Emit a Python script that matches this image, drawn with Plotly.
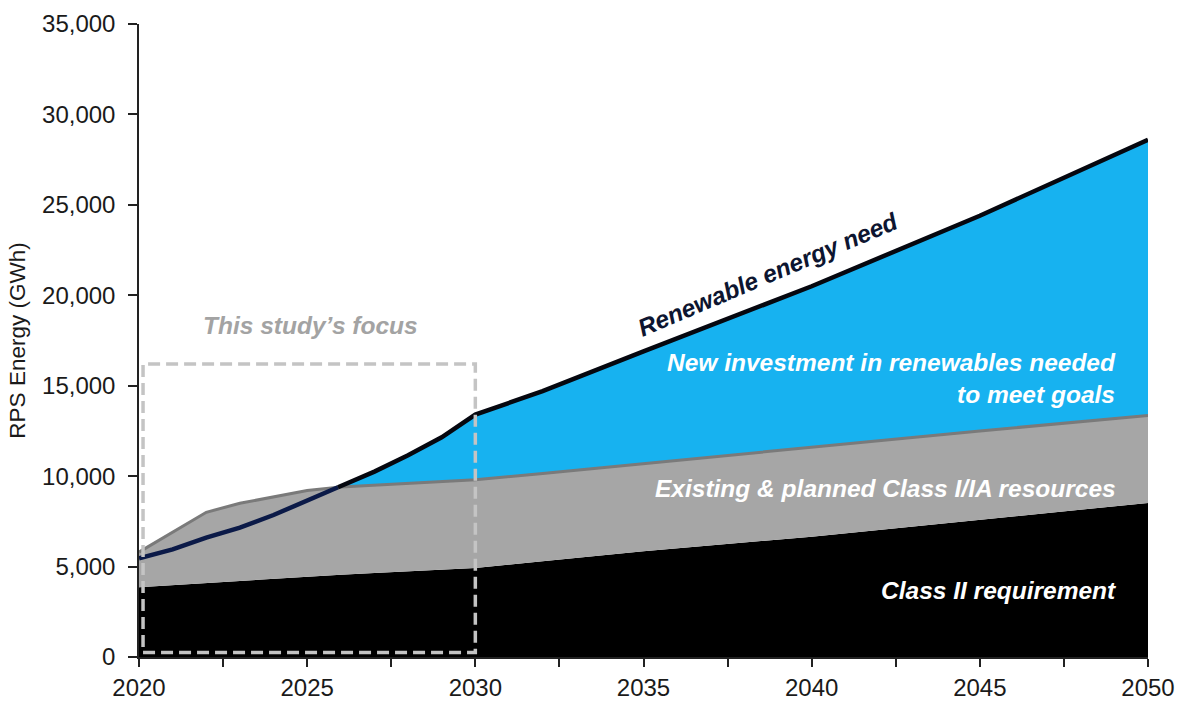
import numpy as np
import plotly.graph_objects as go

years = [2020, 2021, 2022, 2023, 2024, 2025, 2026, 2027, 2028, 2029, 2030, 2032, 2035, 2040, 2045, 2050]
class2 = [3860, 3980, 4100, 4220, 4330, 4450, 4550, 4650, 4750, 4830, 4920, 5300, 5850, 6650, 7600, 8520]
existing_top = [5800, 6900, 8000, 8500, 8850, 9200, 9400, 9500, 9600, 9700, 9800, 10150, 10700, 11600, 12500, 13350]
need = [5460, 5950, 6600, 7150, 7850, 8650, 9450, 10250, 11150, 12150, 13400, 14700, 16900, 20500, 24400, 28600]

x_ticks = [2020, 2022.5, 2025, 2027.5, 2030, 2032.5, 2035, 2037.5, 2040, 2042.5, 2045, 2047.5, 2050]
x_ticktext = ["2020", "", "2025", "", "2030", "", "2035", "", "2040", "", "2045", "", "2050"]
y_ticks = [0, 5000, 10000, 15000, 20000, 25000, 30000, 35000]

yr = np.array(years, float)
nd = np.array(need, float)
ex = np.array(existing_top, float)

# find crossing points where need rises above existing resources
xs = list(yr)
diff = nd - ex
cross = []
for i in range(len(yr) - 1):
    if diff[i] * diff[i + 1] < 0:
        t = diff[i] / (diff[i] - diff[i + 1])
        cross.append(yr[i] + t * (yr[i + 1] - yr[i]))
xs = np.array(sorted(set(xs + cross)))
nd_f = np.interp(xs, yr, nd)
ex_f = np.interp(xs, yr, ex)
blue_top = np.maximum(nd_f, ex_f)
xc = cross[0] if cross else yr[0]

FONT = "Arial, Liberation Sans, sans-serif"
fig = go.Figure()
fig.add_trace(go.Scatter(x=years, y=class2, mode="lines", line=dict(width=0, color="#000000"),
                         fill="tozeroy", fillcolor="#000000", showlegend=False, hoverinfo="skip"))
fig.add_trace(go.Scatter(x=years, y=existing_top, mode="lines", line=dict(width=0, color="#a6a6a6"),
                         fill="tonexty", fillcolor="#a6a6a6", showlegend=False, hoverinfo="skip"))
fig.add_trace(go.Scatter(x=xs, y=blue_top, mode="lines", line=dict(width=0, color="#17b2f0"),
                         fill="tonexty", fillcolor="#17b2f0", showlegend=False, hoverinfo="skip"))
fig.add_trace(go.Scatter(x=years, y=existing_top, mode="lines", line=dict(width=3, color="#7a7a7a"),
                         showlegend=False, hoverinfo="skip"))
m1 = xs <= xc + 1e-9
m2 = xs >= xc - 1e-9
fig.add_trace(go.Scatter(x=xs[m1], y=nd_f[m1], mode="lines", line=dict(width=4.5, color="#0b1a48"),
                         showlegend=False, hoverinfo="skip"))
fig.add_trace(go.Scatter(x=xs[m2], y=nd_f[m2], mode="lines", line=dict(width=4.5, color="#05070f"),
                         showlegend=False, hoverinfo="skip"))

fig.add_shape(type="rect", xref="x", yref="y", x0=2020.12, x1=2030, y0=250, y1=16200,
              line=dict(color="#c4c4c4", width=3.5, dash="12px,6px"), layer="above")

def ann(text, x, y, color, xanchor="right", angle=0, size=24.5):
    fig.add_annotation(x=x, y=y, xref="x", yref="y", text=text, showarrow=False,
                       xanchor=xanchor, yanchor="middle", align="right", textangle=angle,
                       font=dict(family=FONT, size=size, color=color))

ann("<b><i>Renewable energy need</i></b>", 2038.7, 21150, "#0d1530", xanchor="center", angle=-23)
ann("<b><i>New investment in renewables needed<br>to meet goals</i></b>", 2049.1, 15420, "#ffffff")
ann("<b><i>Existing &amp; planned Class I/IA resources</i></b>", 2049.1, 9340, "#ffffff")
ann("<b><i>Class II requirement</i></b>", 2049.1, 3650, "#ffffff")
ann("<b><i>This study’s focus</i></b>", 2025.1, 18350, "#a3a3a3", xanchor="center")

fig.update_layout(
    width=1177, height=702,
    margin=dict(l=139, r=29, t=24, b=45),
    paper_bgcolor="white", plot_bgcolor="white",
    font=dict(family=FONT, size=23, color="#1a1a1a"),
)
fig.update_xaxes(range=[2020, 2050], tickvals=x_ticks, ticktext=x_ticktext, ticks="outside",
                 ticklen=8, tickwidth=1.5, tickcolor="#222", showline=True, linecolor="#222",
                 linewidth=1.5, showgrid=False, zeroline=False, tickfont=dict(size=24),
                 automargin=False)
fig.update_yaxes(range=[0, 35000], tickvals=y_ticks, tickformat=",", ticks="outside",
                 ticklen=9, tickwidth=1.5, tickcolor="#222", showline=True, linecolor="#222",
                 linewidth=1.5, showgrid=False, zeroline=False, tickfont=dict(size=24),
                 ticklabelstandoff=8, automargin=False,
                 title=dict(text="RPS Energy (GWh)", font=dict(size=22.5), standoff=10))

fig.write_html("out.html", config={"displayModeBar": False},
               post_script="document.body.style.margin='0';document.body.style.overflow='hidden';")
